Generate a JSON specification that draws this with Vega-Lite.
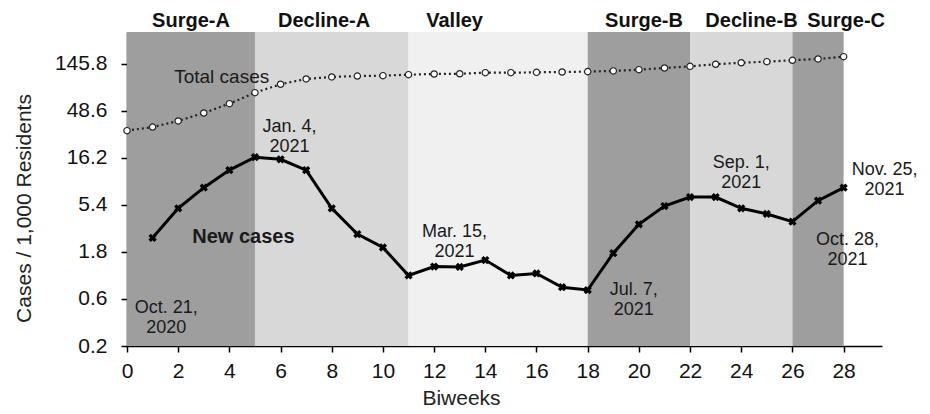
{
  "$schema": "https://vega.github.io/schema/vega-lite/v6.json",
  "width": 755,
  "height": 314,
  "autosize": {"type": "none"},
  "padding": {"left": 127, "top": 32, "right": 48, "bottom": 68},
  "background": "white",
  "config": {"view": {"stroke": null}, "font": "Liberation Sans"},
  "datasets": {
    "bands": [
      {"phase": "Surge-A", "kind": "surge", "start": 0, "end": 5, "lx": 2.5},
      {"phase": "Decline-A", "kind": "decline", "start": 5, "end": 11, "lx": 7.7},
      {"phase": "Valley", "kind": "valley", "start": 11, "end": 18, "lx": 12.8},
      {"phase": "Surge-B", "kind": "surge", "start": 18, "end": 22, "lx": 20.2},
      {"phase": "Decline-B", "kind": "decline", "start": 22, "end": 26, "lx": 24.4},
      {"phase": "Surge-C", "kind": "surge", "start": 26, "end": 28, "lx": 28.1}
    ],
    "total": [
      {"w": 0, "v": 30.7}, {"w": 1, "v": 33.4}, {"w": 2, "v": 38.5}, {"w": 3, "v": 46.4},
      {"w": 4, "v": 57.7}, {"w": 5, "v": 74.6}, {"w": 6, "v": 90.8}, {"w": 7, "v": 102.8},
      {"w": 8, "v": 107.7}, {"w": 9, "v": 110}, {"w": 10, "v": 111}, {"w": 11, "v": 113.6},
      {"w": 12, "v": 115.4}, {"w": 13, "v": 116}, {"w": 14, "v": 119}, {"w": 15, "v": 119},
      {"w": 16, "v": 120}, {"w": 17, "v": 121}, {"w": 18, "v": 122}, {"w": 19, "v": 124},
      {"w": 20, "v": 127.7}, {"w": 21, "v": 132.8}, {"w": 22, "v": 138}, {"w": 23, "v": 145},
      {"w": 24, "v": 150}, {"w": 25, "v": 154}, {"w": 26, "v": 159}, {"w": 27, "v": 164},
      {"w": 28, "v": 173}
    ],
    "newcases": [
      {"w": 1, "v": 2.51}, {"w": 2, "v": 5.0}, {"w": 3, "v": 8.1}, {"w": 4, "v": 12.2},
      {"w": 5, "v": 16.5}, {"w": 6, "v": 15.7}, {"w": 7, "v": 12.2}, {"w": 8, "v": 5.0},
      {"w": 9, "v": 2.74}, {"w": 10, "v": 2.0}, {"w": 11, "v": 1.04}, {"w": 12, "v": 1.28},
      {"w": 13, "v": 1.27}, {"w": 14, "v": 1.49}, {"w": 15, "v": 1.04}, {"w": 16, "v": 1.09},
      {"w": 17, "v": 0.79}, {"w": 18, "v": 0.74}, {"w": 19, "v": 1.75}, {"w": 20, "v": 3.44},
      {"w": 21, "v": 5.27}, {"w": 22, "v": 6.5}, {"w": 23, "v": 6.5}, {"w": 24, "v": 5.0},
      {"w": 25, "v": 4.38}, {"w": 26, "v": 3.66}, {"w": 27, "v": 5.97}, {"w": 28, "v": 8.1}
    ],
    "dates": [
      {"label": "Oct. 21,\n2020", "x": 1.53, "y": 0.486},
      {"label": "Jan. 4,\n2021", "x": 6.35, "y": 33.4},
      {"label": "Mar. 15,\n2021", "x": 12.8, "y": 2.87},
      {"label": "Jul. 7,\n2021", "x": 19.8, "y": 0.74},
      {"label": "Sep. 1,\n2021", "x": 24.0, "y": 14.4},
      {"label": "Nov. 25,\n2021", "x": 29.6, "y": 12.2},
      {"label": "Oct. 28,\n2021", "x": 28.15, "y": 2.38}
    ],
    "serieslabels": [
      {"label": "Total cases", "x": 3.7, "y": 107.7, "kind": "total"},
      {"label": "New cases", "x": 4.55, "y": 2.56, "kind": "new"}
    ]
  },
  "layer": [
    {
      "data": {"name": "bands"},
      "mark": {"type": "rect"},
      "encoding": {
        "x": {
          "field": "start", "type": "quantitative",
          "scale": {"domain": [0, 29.5], "nice": false, "zero": false},
          "axis": {
            "values": [0, 2, 4, 6, 8, 10, 12, 14, 16, 18, 20, 22, 24, 26, 28],
            "title": "Biweeks", "titleFontSize": 21, "titleFontWeight": "normal",
            "titleColor": "#222", "labelFontSize": 21, "labelColor": "#111",
            "tickSize": 6, "tickColor": "black", "domainColor": "black", "domainWidth": 1.5, "tickWidth": 1.5,
            "grid": false, "labelPadding": 8, "titlePadding": 6, "titleX": 334, "labelFlush": false
          }
        },
        "x2": {"field": "end"},
        "y": {
          "datum": 0.2, "type": "quantitative",
          "scale": {"type": "log", "domain": [0.2, 308], "nice": false},
          "axis": {
            "values": [0.2, 0.6, 1.8, 5.4, 16.2, 48.6, 145.8], "format": ".1f",
            "title": "Cases / 1,000 Residents", "titleFontSize": 21, "titleFontWeight": "normal",
            "titleColor": "#222", "labelFontSize": 21, "labelColor": "#111",
            "tickSize": 6, "tickColor": "black", "domainColor": "black", "domainWidth": 1.5, "tickWidth": 1.5,
            "grid": false, "labelPadding": 14, "titlePadding": 20, "titleY": 176
          }
        },
        "y2": {"datum": 308},
        "color": {
          "field": "kind", "type": "nominal",
          "scale": {"domain": ["surge", "decline", "valley"], "range": ["#9e9e9e", "#d8d8d8", "#f0f0f0"]},
          "legend": null
        }
      }
    },
    {
      "data": {"name": "bands"},
      "mark": {"type": "text", "fontWeight": "bold", "fontSize": 20, "baseline": "middle", "align": "center", "color": "#111"},
      "encoding": {
        "x": {"field": "lx", "type": "quantitative"},
        "y": {"datum": 400, "type": "quantitative"},
        "text": {"field": "phase"}
      }
    },
    {
      "data": {"name": "total"},
      "mark": {"type": "line", "color": "#222", "strokeWidth": 2.2, "strokeDash": [2, 3]},
      "encoding": {
        "x": {"field": "w", "type": "quantitative"},
        "y": {"field": "v", "type": "quantitative"}
      }
    },
    {
      "data": {"name": "total"},
      "mark": {"type": "point", "shape": "circle", "filled": true, "fill": "white", "stroke": "#222", "strokeWidth": 1.2, "size": 40, "opacity": 1},
      "encoding": {
        "x": {"field": "w", "type": "quantitative"},
        "y": {"field": "v", "type": "quantitative"}
      }
    },
    {
      "data": {"name": "newcases"},
      "mark": {"type": "line", "color": "black", "strokeWidth": 3},
      "encoding": {
        "x": {"field": "w", "type": "quantitative"},
        "y": {"field": "v", "type": "quantitative"}
      }
    },
    {
      "data": {"name": "newcases"},
      "mark": {"type": "point", "shape": "cross", "angle": 45, "filled": true, "color": "black", "size": 70, "opacity": 1},
      "encoding": {
        "x": {"field": "w", "type": "quantitative"},
        "y": {"field": "v", "type": "quantitative"}
      }
    },
    {
      "data": {"name": "dates"},
      "mark": {"type": "text", "fontSize": 18, "lineBreak": "\n", "lineHeight": 20, "align": "center", "baseline": "middle", "color": "#1a1a1a"},
      "encoding": {
        "x": {"field": "x", "type": "quantitative"},
        "y": {"field": "y", "type": "quantitative"},
        "text": {"field": "label"}
      }
    },
    {
      "data": {"name": "serieslabels"},
      "transform": [{"filter": "datum.kind === 'total'"}],
      "mark": {"type": "text", "fontSize": 19, "align": "center", "baseline": "middle", "color": "#1a1a1a"},
      "encoding": {
        "x": {"field": "x", "type": "quantitative"},
        "y": {"field": "y", "type": "quantitative"},
        "text": {"field": "label"}
      }
    },
    {
      "data": {"name": "serieslabels"},
      "transform": [{"filter": "datum.kind === 'new'"}],
      "mark": {"type": "text", "fontSize": 20, "fontWeight": "bold", "align": "center", "baseline": "middle", "color": "#1a1a1a"},
      "encoding": {
        "x": {"field": "x", "type": "quantitative"},
        "y": {"field": "y", "type": "quantitative"},
        "text": {"field": "label"}
      }
    }
  ]
}
